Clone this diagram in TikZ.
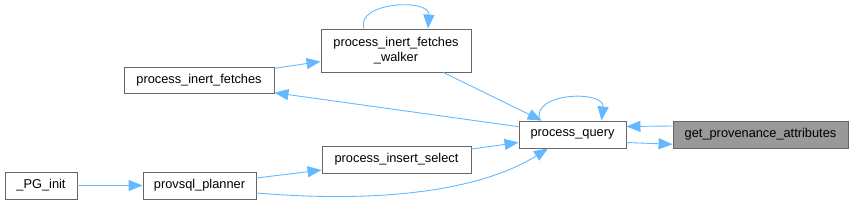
\documentclass[tikz,border=0pt]{standalone}
\usepackage{fontspec}
\setmainfont{Liberation Sans}
\usetikzlibrary{arrows.meta,calc}
\definecolor{edgeblue}{HTML}{63B8FF}
\definecolor{boxgray}{HTML}{666666}
\definecolor{hlgray}{HTML}{999999}
\begin{document}
\begin{tikzpicture}[x=1pt,y=-1pt,
  fn/.style={draw=boxgray, line width=0.9pt, fill=white, rectangle, inner sep=0pt,
    font=\fontsize{12.8}{15.5}\selectfont, align=center, text=black},
  hl/.style={fn, fill=hlgray},
  call/.style={draw=edgeblue, line width=0.9pt, -{Triangle[length=14pt,width=11pt]}}]
\useasboundingbox (0,0) rectangle (853,204);
\node[fn, minimum width=72pt, minimum height=27pt] (pginit) at (41,185.5) {\_PG\_init};
\node[fn, minimum width=113pt, minimum height=27pt] (planner) at (199.5,185.5) {provsql\_planner};
\node[fn, minimum width=150pt, minimum height=26pt] (inert) at (199,80) {process\_inert\_fetches};
\node[fn, minimum width=150pt, minimum height=43pt] (walker) at (396,50.5) {process\_inert\_fetches\\\_walker};
\node[fn, minimum width=149pt, minimum height=27pt] (insert) at (396.5,159.5) {process\_insert\_select};
\node[fn, minimum width=107pt, minimum height=27pt] (pq) at (572.5,134.5) {process\_query};
\node[hl, minimum width=175pt, minimum height=27pt] (gpa) at (760.5,134.5) {get\_provenance\_attributes};

\draw[call] (pginit.east) -- (planner.west);
\draw[call] ([yshift=7.5pt]planner.east) -- ([yshift=-10.5pt]insert.west);
\draw[call] ([yshift=-7.5pt]planner.east) .. controls (400,205) and (490,185) .. ([xshift=-24.5pt]pq.south);
\draw[call] ([yshift=10.5pt]insert.east) -- ([yshift=-8pt]pq.west);
\draw[call] ([yshift=11.7pt]inert.east) -- ([yshift=-11pt]walker.west);
\draw[call] ([yshift=7.8pt]pq.west) -- ([yshift=-12.7pt]inert.east);
\draw[call] ([xshift=47.3pt]walker.south) -- ([xshift=-30.8pt]pq.north);
\draw[call] ([xshift=-32pt]walker.north) .. controls (355,2) and (430,-2) .. ([xshift=32pt]walker.north);
\draw[call] ([xshift=-32.5pt]pq.north) .. controls (530,92) and (605,90) .. ([xshift=29pt]pq.north);
\draw[call] ([yshift=8.5pt]gpa.west) -- ([yshift=8pt]pq.east);
\draw[call] ([yshift=-8pt]pq.east) -- ([yshift=-9.8pt]gpa.west);
\end{tikzpicture}
\end{document}
